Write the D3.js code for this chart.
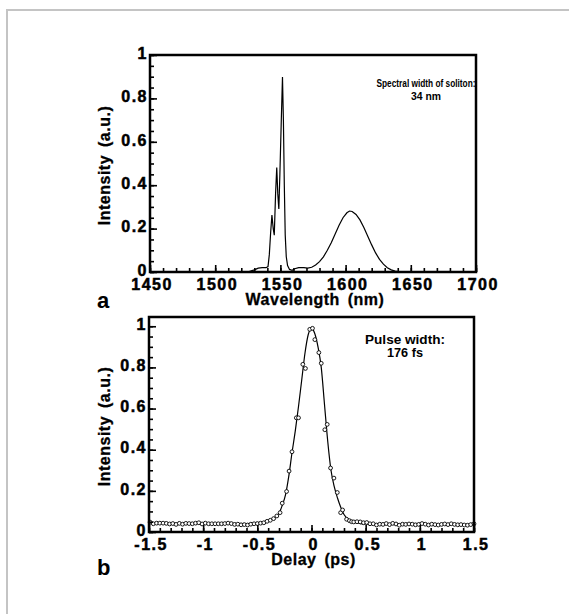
<!DOCTYPE html>
<html>
<head>
<meta charset="utf-8">
<script src="https://cdn.jsdelivr.net/npm/d3@7"></script>
<style>
  body { margin: 0; background: #fff; }
  svg { display: block; font-family: 'Liberation Sans', Arial, sans-serif; font-weight: bold; }
</style>
</head>
<body>
<svg width="569" height="614"></svg>
<script>
// panel a: spectrum
const wavelength = [1450, 1520, 1526, 1530, 1533, 1536, 1539, 1540.5, 1541.5, 1542.5,
  1543.5, 1544.5, 1545.3, 1546.3, 1547.2, 1548, 1548.8, 1549.6, 1550.6, 1551.6,
  1552.3, 1553, 1553.7, 1554.5, 1555.5, 1557, 1559, 1561, 1564, 1568,
  1571, 1574, 1577, 1580, 1583, 1586, 1589, 1592, 1595, 1598,
  1601, 1603, 1605, 1608, 1611, 1614, 1617, 1620, 1623, 1626,
  1629, 1632, 1635, 1638, 1642, 1646, 1700];
const spectrum = [0, 0, 0.002, 0.01, 0.018, 0.02, 0.02, 0.025, 0.08, 0.18,
  0.262, 0.2, 0.17, 0.36, 0.482, 0.36, 0.29, 0.45, 0.68, 0.898,
  0.7, 0.4, 0.17, 0.07, 0.03, 0.012, 0.008, 0.015, 0.02, 0.02,
  0.018, 0.022, 0.032, 0.048, 0.07, 0.1, 0.135, 0.175, 0.215, 0.25,
  0.273, 0.281, 0.279, 0.265, 0.24, 0.205, 0.165, 0.125, 0.088, 0.058,
  0.036, 0.02, 0.01, 0.004, 0.001, 0, 0];
const wavelengthTicks = [1450, 1500, 1550, 1600, 1650, 1700];

// panel b: autocorrelation
const delay = [-1.49, -1.46, -1.43, -1.40, -1.37, -1.34, -1.31, -1.28, -1.25, -1.22,
  -1.19, -1.16, -1.13, -1.10, -1.07, -1.04, -1.01, -0.98, -0.95, -0.92,
  -0.89, -0.86, -0.83, -0.80, -0.77, -0.74, -0.71, -0.68, -0.65, -0.62,
  -0.59, -0.56, -0.53, -0.50, -0.47, -0.44, -0.41, -0.38, -0.35, -0.32,
  -0.29, -0.27, -0.23, -0.207, -0.18, -0.14, -0.12, -0.08, -0.056, -0.016,
  0.009, 0.031, 0.068, 0.09, 0.123, 0.145, 0.176, 0.207, 0.238, 0.269,
  0.287, 0.324, 0.35, 0.37, 0.39, 0.42, 0.45, 0.48, 0.51, 0.54,
  0.57, 0.60, 0.63, 0.66, 0.69, 0.72, 0.75, 0.78, 0.81, 0.84,
  0.87, 0.90, 0.93, 0.96, 0.99, 1.02, 1.05, 1.08, 1.11, 1.14,
  1.17, 1.20, 1.23, 1.26, 1.29, 1.32, 1.35, 1.38, 1.41, 1.44,
  1.47, 1.50];
const measured = [0.048, 0.040, 0.043, 0.043, 0.043, 0.042, 0.039, 0.041, 0.037, 0.042,
  0.038, 0.042, 0.041, 0.040, 0.043, 0.045, 0.039, 0.043, 0.040, 0.040,
  0.040, 0.040, 0.040, 0.041, 0.043, 0.041, 0.037, 0.038, 0.035, 0.036,
  0.034, 0.038, 0.040, 0.041, 0.043, 0.045, 0.052, 0.057, 0.065, 0.078,
  0.094, 0.14, 0.197, 0.296, 0.39, 0.555, 0.555, 0.815, 0.795, 0.985,
  0.99, 0.935, 0.872, 0.82, 0.497, 0.523, 0.311, 0.262, 0.192, 0.094,
  0.107, 0.062, 0.055, 0.050, 0.049, 0.050, 0.049, 0.045, 0.046, 0.040,
  0.040, 0.034, 0.038, 0.037, 0.041, 0.036, 0.042, 0.039, 0.033, 0.038,
  0.037, 0.039, 0.038, 0.035, 0.037, 0.041, 0.038, 0.034, 0.038, 0.036,
  0.034, 0.037, 0.039, 0.036, 0.040, 0.037, 0.035, 0.036, 0.034, 0.033,
  0.036, 0.040];
const fitDelay = [-1.5, -0.8, -0.6, -0.5, -0.45, -0.4, -0.35, -0.3, -0.27, -0.24,
  -0.21, -0.18, -0.15, -0.12, -0.09, -0.06, -0.03, 0, 0.03, 0.06,
  0.09, 0.12, 0.15, 0.18, 0.21, 0.24, 0.27, 0.3, 0.35, 0.4,
  0.45, 0.5, 1.0, 1.5];
const fitIntensity = [0.041, 0.040, 0.040, 0.043, 0.047, 0.054, 0.066, 0.09, 0.13, 0.18,
  0.27, 0.385, 0.49, 0.61, 0.74, 0.87, 0.96, 0.99, 0.965, 0.9,
  0.8, 0.62, 0.44, 0.3, 0.22, 0.165, 0.12, 0.085, 0.058, 0.046,
  0.041, 0.039, 0.037, 0.036];
const delayTicks = [-1.5, -1, -0.5, 0, 0.5, 1, 1.5];

const intensityTicks = [0, 0.2, 0.4, 0.6, 0.8, 1];

const svg = d3.select('svg');

// faint border of the scanned page
svg.append('path')
    .attr('d', 'M7,614 V10 H569')
    .attr('fill', 'none')
    .attr('stroke', '#c4c4c4')
    .attr('stroke-width', 2);

function drawFrame(g, x, y, xTicks, xMinorStep, yMax, xPad) {
  const [x0, x1] = x.range();
  const [y0, y1] = y.range();

  const xMinor = d3.range(xTicks[0], xTicks[xTicks.length - 1] + 1e-9, xMinorStep);
  const yMinor = d3.range(0, yMax + 1e-9, 0.05);

  g.append('g')
      .attr('transform', `translate(0,${y0})`)
      .call(d3.axisBottom(x).tickValues(xMinor).tickSize(-4).tickFormat(''))
      .call(a => a.select('.domain').remove())
      .call(a => a.selectAll('line').attr('stroke-width', 1.6));

  g.append('g')
      .attr('transform', `translate(0,${y0})`)
      .call(d3.axisBottom(x).tickValues(xTicks).tickSize(-7).tickPadding(xPad)
          .tickFormat(d => String(d)))
      .call(a => a.select('.domain').remove())
      .call(a => a.selectAll('line').attr('stroke-width', 1.6))
      .call(a => a.selectAll('text').attr('dx', '0.1em'));

  g.append('g')
      .attr('transform', `translate(${x0},0)`)
      .call(d3.axisLeft(y).tickValues(yMinor).tickSize(-4).tickFormat(''))
      .call(a => a.select('.domain').remove())
      .call(a => a.selectAll('line').attr('stroke-width', 1.6));

  g.append('g')
      .attr('transform', `translate(${x0},0)`)
      .call(d3.axisLeft(y).tickValues(intensityTicks).tickSize(-7).tickPadding(2)
          .tickFormat(d => String(d)))
      .call(a => a.select('.domain').remove())
      .call(a => a.selectAll('line').attr('stroke-width', 1.6))
      .call(a => a.selectAll('text').attr('dy', '0.2em'));

  g.selectAll('.tick text')
      .attr('font-family', 'Liberation Sans, Arial, sans-serif')
      .attr('font-weight', 'bold')
      .attr('font-size', 16)
      .attr('letter-spacing', 1.5)
      .attr('fill', '#000')
      .attr('stroke', '#000')
      .attr('stroke-width', 0.5);

  g.append('rect')
      .attr('x', x0)
      .attr('y', y1)
      .attr('width', x1 - x0)
      .attr('height', y0 - y1)
      .attr('fill', 'none')
      .attr('stroke', '#000')
      .attr('stroke-width', 2.5);
}

function axisTitles(g, x, y, xTitle, titleDy, letter, letterY) {
  const [x0, x1] = x.range();
  const [y0, y1] = y.range();
  g.append('text')
      .attr('x', (x0 + x1) / 2 + 2)
      .attr('y', y0 + titleDy)
      .attr('text-anchor', 'middle')
      .attr('font-size', 16)
      .attr('letter-spacing', 0.5)
      .attr('word-spacing', 3)
      .attr('stroke', '#000')
      .attr('stroke-width', 0.3)
      .text(xTitle);
  g.append('text')
      .attr('transform', `translate(110,${(y0 + y1) / 2 + 2}) rotate(-90)`)
      .attr('text-anchor', 'middle')
      .attr('font-size', 16)
      .attr('letter-spacing', 0.5)
      .attr('word-spacing', 3)
      .attr('stroke', '#000')
      .attr('stroke-width', 0.3)
      .text('Intensity (a.u.)');
  g.append('text')
      .attr('x', 97)
      .attr('y', letterY)
      .attr('font-size', 22)
      .text(letter);
}

function note(g, cx, yTop, size, line1, len1, line2, len2) {
  g.append('text')
      .attr('x', cx)
      .attr('y', yTop)
      .attr('text-anchor', 'middle')
      .attr('font-size', size)
      .attr('textLength', len1)
      .attr('lengthAdjust', 'spacingAndGlyphs')
      .text(line1);
  g.append('text')
      .attr('x', cx)
      .attr('y', yTop + 13)
      .attr('text-anchor', 'middle')
      .attr('font-size', size)
      .attr('textLength', len2)
      .attr('lengthAdjust', 'spacingAndGlyphs')
      .text(line2);
}

// panel a
const xA = d3.scaleLinear().domain([1450, 1700]).range([150, 476]);
const yA = d3.scaleLinear().domain([0, 1]).range([272, 55]);
const gA = svg.append('g');

gA.append('path')
    .datum(wavelength.map((w, i) => [w, spectrum[i]]))
    .attr('fill', 'none')
    .attr('stroke', '#000')
    .attr('stroke-width', 1.2)
    .attr('d', d3.line().x(d => xA(d[0])).y(d => yA(d[1])));

drawFrame(gA, xA, yA, wavelengthTicks, 10, 1, 7);
axisTitles(gA, xA, yA, 'Wavelength (nm)', 33, 'a', 308);
note(gA, 426, 87, 11, 'Spectral width of soliton:', 99, '34 nm', 30);

// panel b
const xB = d3.scaleLinear().domain([-1.5, 1.5]).range([149, 474]);
const yB = d3.scaleLinear().domain([0, 1.045]).range([532, 317]);
const gB = svg.append('g');

gB.append('path')
    .datum(fitDelay.map((t, i) => [t, fitIntensity[i]]))
    .attr('fill', 'none')
    .attr('stroke', '#000')
    .attr('stroke-width', 1.2)
    .attr('d', d3.line().curve(d3.curveMonotoneX).x(d => xB(d[0])).y(d => yB(d[1])));

gB.selectAll('circle')
    .data(delay.map((t, i) => [t, measured[i]]))
    .enter()
    .append('circle')
    .attr('cx', d => xB(d[0]))
    .attr('cy', d => yB(d[1]))
    .attr('r', 1.9)
    .attr('fill', '#fff')
    .attr('stroke', '#000')
    .attr('stroke-width', 0.9);

drawFrame(gB, xB, yB, delayTicks, 0.1, 1.04, 7);
axisTitles(gB, xB, yB, 'Delay (ps)', 33, 'b', 575);
note(gB, 405, 344, 12, 'Pulse width:', 80, '176 fs', 36);
</script>
</body>
</html>
